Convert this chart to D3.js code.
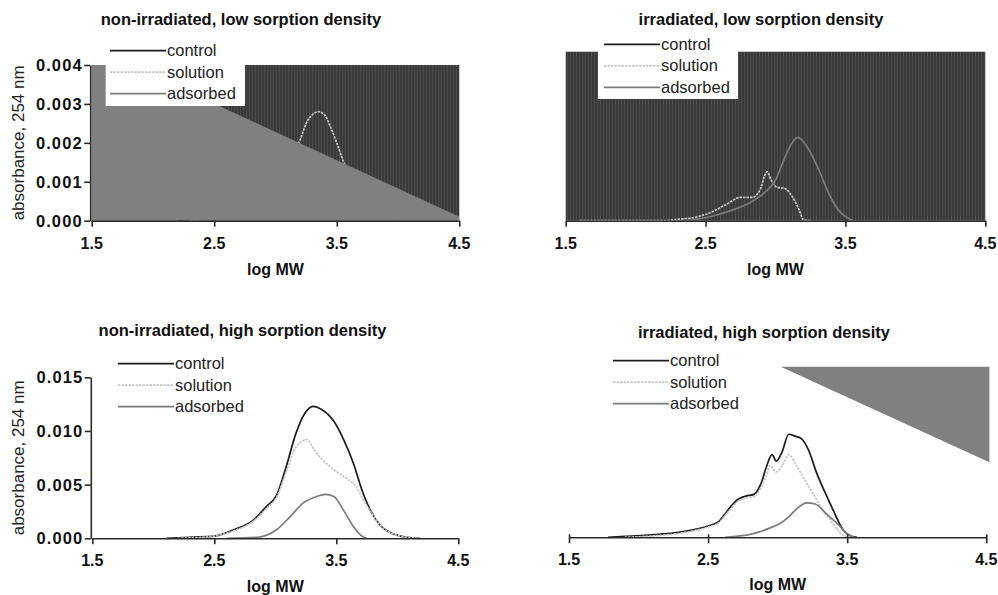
<!DOCTYPE html>
<html><head><meta charset="utf-8">
<script src="https://cdn.jsdelivr.net/npm/d3@7/dist/d3.min.js"></script>
<style>body{margin:0;background:#fff}svg{display:block}text{font-family:"Liberation Sans",Arial,sans-serif}</style>
</head><body><svg id="c" width="998" height="595"></svg>
<script>
// ---------- data ----------
const xTicks = [1.5, 2.5, 3.5, 4.5];
const yTicksLow = [0, 0.001, 0.002, 0.003, 0.004];
const yTicksHigh = [0, 0.005, 0.010, 0.015];
const seriesNames = ["control", "solution", "adsorbed"];
const panelTitles = ["non-irradiated, low sorption density", "irradiated, low sorption density",
                     "non-irradiated, high sorption density", "irradiated, high sorption density"];
const xTitle = "log MW";
const yTitle = "absorbance, 254 nm";

// non-irradiated, low sorption density
const nonIrrLowControl = [[2.2,0],[2.5,0.0001],[2.8,0.0004],[3.0,0.0008],[3.2,0.0013],[3.35,0.0016],[3.5,0.0014],[3.65,0.0008],[3.8,0.0003],[4.0,0]];
const nonIrrLowSolution = [[2.3,0],[2.5,0.0001],[2.7,0.0003],[2.9,0.0008],[3.05,0.0013],[3.15,0.0018],[3.2,0.00207],[3.25,0.0025],[3.3,0.00272],[3.35,0.0028],[3.4,0.00272],[3.45,0.0024],[3.5,0.002],[3.55,0.00156],[3.6,0.0012],[3.7,0.0007],[3.85,0.0002],[4.0,0]];
const nonIrrLowAdsorbed = [[2.8,0],[3.0,0.0002],[3.2,0.0006],[3.4,0.0008],[3.55,0.0005],[3.7,0.0001],[3.8,0]];
const nonIrrLowArtifact = [[1.5,0],[1.5,0.00446],[4.5,0.0001],[4.5,0]];

// irradiated, low sorption density
const irrLowControl = [[2.2,0],[2.5,0.0002],[2.7,0.0005],[2.9,0.0011],[3.0,0.0014],[3.1,0.0017],[3.2,0.0015],[3.3,0.0009],[3.4,0.0003],[3.5,0]];
const irrLowSolution = [[1.6,0],[2.2,0],[2.3,0.00003],[2.45,0.0001],[2.54,0.0002],[2.64,0.00037],[2.75,0.00055],[2.83,0.00055],[2.89,0.00073],[2.92,0.00104],[2.94,0.00116],[2.97,0.00096],[3.01,0.00079],[3.06,0.00077],[3.12,0.00057],[3.17,0.00025],[3.2,0.00002],[3.25,0]];
const irrLowAdsorbed = [[2.35,0],[2.54,0.0001],[2.69,0.00025],[2.83,0.00045],[2.93,0.00069],[3.0,0.00096],[3.05,0.00136],[3.09,0.00167],[3.16,0.00197],[3.24,0.00167],[3.31,0.0012],[3.38,0.00065],[3.45,0.00025],[3.52,0.00006],[3.56,0]];

// non-irradiated, high sorption density
const nonIrrHighControl = [[2.11,0],[2.3,0.0001],[2.5,0.0002],[2.66,0.0008],[2.82,0.0017],[2.93,0.003],[3.01,0.004],[3.09,0.0067],[3.17,0.0098],[3.24,0.0116],[3.31,0.0123],[3.38,0.012],[3.48,0.0109],[3.56,0.0092],[3.64,0.007],[3.71,0.0045],[3.78,0.0026],[3.86,0.0012],[3.97,0.0004],[4.08,0.0001],[4.19,0]];
const nonIrrHighSolution = [[2.2,0],[2.5,0.0002],[2.66,0.0007],[2.82,0.0016],[2.93,0.0028],[3.01,0.0038],[3.09,0.0062],[3.17,0.0085],[3.26,0.0092],[3.32,0.0082],[3.39,0.0073],[3.48,0.0064],[3.58,0.0056],[3.67,0.0047],[3.72,0.0036],[3.78,0.0025],[3.86,0.0012],[3.97,0.0004],[4.08,0.0001],[4.2,0]];
const nonIrrHighAdsorbed = [[2.6,0],[2.85,0.0001],[3.01,0.0008],[3.12,0.002],[3.23,0.0033],[3.34,0.0039],[3.41,0.0041],[3.48,0.0039],[3.56,0.0026],[3.64,0.0011],[3.71,0.0002],[3.75,0]];

// irradiated, high sorption density
const irrHighControl = [[1.78,0],[2.07,0.0002],[2.31,0.0005],[2.51,0.0011],[2.57,0.0014],[2.64,0.0025],[2.71,0.0035],[2.79,0.0039],[2.83,0.004],[2.88,0.005],[2.92,0.0066],[2.96,0.0077],[2.99,0.0071],[3.03,0.0079],[3.08,0.0096],[3.13,0.0094],[3.17,0.0092],[3.22,0.0082],[3.28,0.006],[3.34,0.0042],[3.40,0.0025],[3.47,0.0007],[3.53,0.0001],[3.57,0]];
const irrHighSolution = [[1.9,0],[2.07,0.0001],[2.31,0.0004],[2.51,0.001],[2.57,0.0013],[2.64,0.0023],[2.71,0.0033],[2.79,0.0037],[2.83,0.0038],[2.88,0.0046],[2.92,0.0058],[2.945,0.0067],[2.99,0.0061],[3.03,0.0066],[3.08,0.0077],[3.13,0.0068],[3.18,0.0057],[3.23,0.0046],[3.28,0.0035],[3.33,0.0024],[3.38,0.0016],[3.45,0.0004],[3.5,0]];
const irrHighAdsorbed = [[2.62,0],[2.81,0.0003],[2.87,0.0005],[2.95,0.0009],[3.02,0.0013],[3.08,0.0019],[3.14,0.0027],[3.21,0.0032],[3.27,0.0031],[3.35,0.0022],[3.41,0.0015],[3.45,0.001],[3.5,0.0003],[3.55,0]];
const irrHighArtifact = [[3.022,0.0159],[4.522,0.0159],[4.522,0.00699]];

// ---------- layout ----------
const panels = [
  {title: panelTitles[0], series: [nonIrrLowControl, nonIrrLowSolution, nonIrrLowAdsorbed], yTicks: yTicksLow, yFmt: ".3f",
   xr: [91.7, 459.3], yr: [220.7, 65], dark: true, artifact: nonIrrLowArtifact, showY: true, tickUp: 0,
   legend: {x: 110, y: 50.7, box: [105.7, 36, 139.3, 70]}, titleX: 241, titleY: 25, tickY: 248.5, xtY: 275, ytX: 23.5},
  {title: panelTitles[1], series: [irrLowControl, irrLowSolution, irrLowAdsorbed], yTicks: yTicksLow, yFmt: ".3f",
   xr: [565.7, 985.3], yr: [220.7, 51.7], dark: true, artifact: null, showY: false, tickUp: 0,
   legend: {x: 604, y: 44.3, box: [598, 36, 140, 63]}, titleX: 761, titleY: 25, tickY: 248.5, xtY: 275},
  {title: panelTitles[2], series: [nonIrrHighControl, nonIrrHighSolution, nonIrrHighAdsorbed], yTicks: yTicksHigh, yFmt: ".3f",
   xr: [92.3, 458.3], yr: [538.3, 377.3], dark: false, artifact: null, showY: true, tickUp: 0,
   legend: {x: 118, y: 363.7, box: null}, titleX: 242.5, titleY: 336, tickY: 566, xtY: 591.5, ytX: 23.5},
  {title: panelTitles[3], series: [irrHighControl, irrHighSolution, irrHighAdsorbed], yTicks: yTicksHigh, yFmt: ".3f",
   xr: [569, 986.3], yr: [537.3, 376.3], dark: false, artifact: irrHighArtifact, showY: false, tickUp: 3,
   legend: {x: 613, y: 360.7, box: null}, titleX: 764, titleY: 337.5, tickY: 565, xtY: 589.5}
];
const styles = [
  {stroke: "#1c1c1c", dash: null},
  {stroke: "#c6c6c6", dash: "2.5,1"},
  {stroke: "#7c7c7c", dash: null}
];

const svg = d3.select("#c");
const defs = svg.append("defs");
const pat = defs.append("pattern").attr("id", "stripes").attr("patternUnits", "userSpaceOnUse")
  .attr("width", 3).attr("height", 10);
pat.append("rect").attr("width", 3).attr("height", 10).attr("fill", "#3a3a3a");
pat.append("rect").attr("width", 1).attr("height", 10).attr("fill", "#4a4a4a");

panels.forEach((p, i) => {
  const x = d3.scaleLinear().domain([1.5, 4.5]).range(p.xr);
  const y = d3.scaleLinear().domain([p.yTicks[0], p.yTicks[p.yTicks.length - 1]]).range(p.yr);
  const g = svg.append("g");
  const clipId = "clip" + i;
  defs.append("clipPath").attr("id", clipId).append("rect")
    .attr("x", p.xr[0]).attr("y", p.yr[1]).attr("width", p.xr[1] - p.xr[0]).attr("height", p.yr[0] - p.yr[1]);

  const line = d3.line().x(d => x(d[0])).y(d => y(d[1])).curve(d3.curveMonotoneX);
  const drawSeries = k => g.append("path").datum(p.series[k]).attr("d", line).attr("fill", "none")
      .attr("stroke", styles[k].stroke).attr("stroke-width", 1.7)
      .attr("stroke-dasharray", styles[k].dash);

  // control first: in the dark-filled panels the fill layer sits on top of it
  drawSeries(0);
  if (p.dark) {
    g.append("rect").attr("x", p.xr[0]).attr("y", p.yr[1]).attr("width", p.xr[1] - p.xr[0])
      .attr("height", p.yr[0] - p.yr[1]).attr("fill", "url(#stripes)");
  }
  drawSeries(1);
  drawSeries(2);

  if (p.artifact) {
    const poly = d3.line().x(d => x(d[0])).y(d => y(d[1]));
    g.append("path").attr("d", poly(p.artifact) + "Z")
      .attr("fill", "#808080").attr("clip-path", i === 0 ? `url(#${clipId})` : null);
  }

  // x axis
  const xa = g.append("g").attr("transform", `translate(0,${p.yr[0]})`)
    .call(d3.axisBottom(x).tickValues(xTicks).tickFormat(d3.format(".1f")).tickSize(6).tickSizeOuter(0));
  xa.select(".domain").attr("stroke", "#2a2a2a").attr("stroke-width", 1.6);
  xa.selectAll(".tick line").attr("stroke", "#2a2a2a").attr("stroke-width", 1.6).attr("y1", -p.tickUp);
  xa.selectAll(".tick text").remove();
  xTicks.forEach(t => {
    g.append("text").attr("x", x(t)).attr("y", p.tickY).attr("text-anchor", "middle")
      .attr("font-size", 16).attr("font-weight", "bold").attr("fill", "#111").text(d3.format(".1f")(t));
  });
  g.append("text").attr("x", (p.xr[0] + p.xr[1]) / 2).attr("y", p.xtY).attr("text-anchor", "middle")
    .attr("font-size", 16).attr("font-weight", "bold").attr("fill", "#111").text(xTitle);

  if (p.showY) {
    const ya = g.append("g").attr("transform", `translate(${p.xr[0] - 1.5},0)`)
      .call(d3.axisLeft(y).tickValues(p.yTicks).tickFormat(d3.format(p.yFmt)).tickSize(6).tickSizeOuter(0));
    ya.select(".domain").attr("stroke", "#2a2a2a").attr("stroke-width", 1.6);
    ya.selectAll(".tick line").attr("stroke", "#2a2a2a").attr("stroke-width", 1.6);
    ya.selectAll(".tick text").remove();
    p.yTicks.forEach(t => {
      g.append("text").attr("x", p.xr[0] - 9).attr("y", y(t) + 6).attr("text-anchor", "end")
        .attr("font-size", 16.5).attr("letter-spacing", 1.1).attr("font-weight", "bold").attr("fill", "#111")
        .text(d3.format(p.yFmt)(t));
    });
    g.append("text").attr("transform", `translate(${p.ytX},${(p.yr[0] + p.yr[1]) / 2}) rotate(-90)`)
      .attr("text-anchor", "middle").attr("font-size", 17).attr("fill", "#222").text(yTitle);
  }

  // legend
  if (p.legend.box) {
    const b = p.legend.box;
    g.append("rect").attr("x", b[0]).attr("y", b[1]).attr("width", b[2]).attr("height", b[3]).attr("fill", "#fff");
  }
  seriesNames.forEach((n, k) => {
    const ly = p.legend.y + k * 21.5;
    g.append("line").attr("x1", p.legend.x).attr("x2", p.legend.x + 56).attr("y1", ly).attr("y2", ly)
      .attr("stroke", styles[k].stroke).attr("stroke-width", 1.7).attr("stroke-dasharray", styles[k].dash);
    g.append("text").attr("x", p.legend.x + 57).attr("y", ly + 5.5).attr("font-size", 16.5).attr("fill", "#222").text(n);
  });

  g.append("text").attr("x", p.titleX).attr("y", p.titleY).attr("text-anchor", "middle")
    .attr("font-size", 16.5).attr("font-weight", "bold").attr("fill", "#111").text(p.title);
});
</script></body></html>
